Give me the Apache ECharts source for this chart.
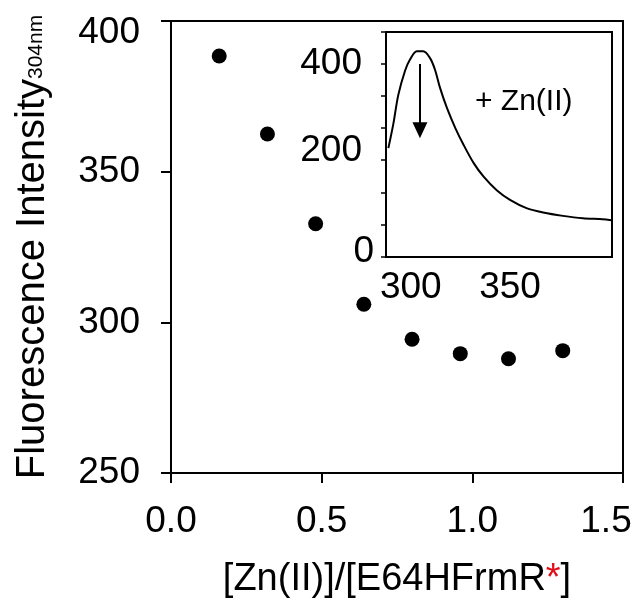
<!DOCTYPE html>
<html>
<head>
<meta charset="utf-8">
<script src="https://cdn.jsdelivr.net/npm/echarts@6/dist/echarts.min.js"></script>
<style>
html,body{margin:0;padding:0;background:#fff;}
#chart{width:637px;height:609px;}
</style>
</head>
<body>
<div id="chart"></div>
<script>
// Main plot: Zn(II) titration
const ratio = [0.16, 0.32, 0.48, 0.64, 0.80, 0.96, 1.12, 1.30];
const intensity = [388.4, 362.5, 332.7, 306.0, 294.4, 289.6, 287.9, 290.6];
const mainXTicks = [0, 0.5, 1.0, 1.5];
const mainYTicks = [250, 300, 350, 400];

// Inset: emission spectrum
const wavelength = [288.7, 291.2, 293.7, 297.1, 299.6, 303.0, 306.3, 309.7, 312.2, 314.7, 318.3, 322.5, 326.7, 331.7, 336.7, 343.3, 350.0, 358.3, 366.7, 376.7, 386.7, 396.7, 401.0];
const spectrum = [225, 275, 335, 385, 408, 425, 425, 411, 387, 350, 307, 266, 231, 194, 166, 138, 118, 101, 92, 85, 80, 78, 76];
const insetXTicks = [300, 350];
const insetYTicks = [0, 200, 400];
const arrowX = [304.6, 304.6];
const arrowY = [399, 262];

const FONT = "'Liberation Sans', Arial, sans-serif";

const chart = echarts.init(document.getElementById('chart'), null, {renderer: 'canvas'});

const option = {
  backgroundColor: '#fff',
  animation: false,
  textStyle: {fontFamily: FONT},
  grid: [
    {left: 171, right: 14, top: 21, bottom: 136, show: true, borderColor: '#000', borderWidth: 2, backgroundColor: 'transparent'},
    {left: 386, right: 25, top: 32, bottom: 352, show: true, borderColor: '#000', borderWidth: 2, backgroundColor: '#fff', z: 5}
  ],
  xAxis: [
    {
      gridIndex: 0, type: 'value', min: mainXTicks[0], max: mainXTicks[mainXTicks.length - 1], interval: 0.5,
      axisLine: {lineStyle: {color: '#000', width: 2}},
      axisTick: {length: 10, lineStyle: {color: '#000', width: 2}},
      splitLine: {show: false},
      axisLabel: {
        color: '#000', fontSize: 37, fontFamily: FONT, margin: 30,
        formatter: v => v === 1.5 ? '{e|1.5}' : v.toFixed(1),
        rich: {e: {fontSize: 37, fontFamily: FONT, color: '#000', padding: [0, 34, 0, 0]}}
      },
      name: '{a|[Zn(II)]/[E64HFrmR}{r|*}{a|]}',
      nameLocation: 'middle', nameGap: 88,
      nameTextStyle: {
        rich: {
          a: {fontSize: 38, fontFamily: FONT, color: '#000'},
          r: {fontSize: 38, fontFamily: FONT, color: '#e0101a'}
        }
      }
    },
    {
      gridIndex: 1, type: 'value', min: 287.5, max: 401.4,
      axisLine: {lineStyle: {color: '#000', width: 2}},
      axisTick: {show: false},
      splitLine: {show: false},
      axisLabel: {
        color: '#000', fontSize: 37, fontFamily: FONT, margin: 12,
        customValues: insetXTicks, showMinLabel: true, showMaxLabel: true
      }
    }
  ],
  yAxis: [
    {
      gridIndex: 0, type: 'value', min: mainYTicks[0], max: mainYTicks[mainYTicks.length - 1], interval: 50,
      axisLine: {lineStyle: {color: '#000', width: 2}},
      axisTick: {length: 10, lineStyle: {color: '#000', width: 2}},
      splitLine: {show: false},
      axisLabel: {
        color: '#000', fontSize: 37, fontFamily: FONT, margin: 31,
        formatter: v => v === 400 ? '{t|400}' : String(v),
        rich: {t: {fontSize: 37, fontFamily: FONT, color: '#000', padding: [24, 0, 0, 0]}}
      },
      name: '{a|Fluorescence Intensity}{b|304nm}',
      nameLocation: 'middle', nameRotate: 90, nameGap: 118,
      nameTextStyle: {
        rich: {
          a: {fontSize: 40, fontFamily: FONT, color: '#000', lineHeight: 46, verticalAlign: 'bottom'},
          b: {fontSize: 21, fontFamily: FONT, color: '#000', lineHeight: 24, verticalAlign: 'bottom', padding: [0, 0, 6, 0]}
        }
      }
    },
    {
      gridIndex: 1, type: 'value', min: 0, max: 465, interval: 200,
      axisLine: {lineStyle: {color: '#000', width: 2}},
      axisTick: {length: 5, lineStyle: {color: '#000', width: 1.5}},
      minorTick: {show: true, splitNumber: 3, length: 5, lineStyle: {color: '#000', width: 1.5}},
      splitLine: {show: false},
      minorSplitLine: {show: false},
      axisLabel: {
        color: '#000', fontSize: 37, fontFamily: FONT, margin: 12,
        formatter: v => v === 0 ? '{z|0}' : (v === 200 ? '{m|200}' : '{n|' + v + '}'),
        rich: {
          z: {fontSize: 37, fontFamily: FONT, color: '#000', padding: [0, 0, 10, 0]},
          m: {fontSize: 37, fontFamily: FONT, color: '#000', padding: [0, 12, 18, 0]},
          n: {fontSize: 37, fontFamily: FONT, color: '#000', padding: [0, 12, 0, 0]}
        }
      }
    }
  ],
  series: [
    {
      type: 'scatter', xAxisIndex: 0, yAxisIndex: 0,
      data: ratio.map((x, i) => [x, intensity[i]]),
      symbol: 'circle', symbolSize: 15,
      itemStyle: {color: '#000', opacity: 1}
    },
    {
      type: 'line', xAxisIndex: 1, yAxisIndex: 1, z: 6,
      data: wavelength.map((x, i) => [x, spectrum[i]]),
      smooth: 0.3, showSymbol: false,
      lineStyle: {color: '#000', width: 2},
      markLine: {
        silent: true,
        symbol: ['none', 'triangle'],
        symbolSize: [15, 16],
        label: {show: false},
        lineStyle: {color: '#000', width: 2, type: 'solid'},
        data: [[{coord: [arrowX[0], arrowY[0]]}, {coord: [arrowX[1], arrowY[1]]}]]
      }
    }
  ],
  graphic: [
    {
      type: 'text', z: 20, left: 475, top: 87,
      style: {text: '+ Zn(II)', font: "30px 'Liberation Sans', Arial, sans-serif", fill: '#000'}
    }
  ]
};

chart.setOption(option);
</script>
</body>
</html>
